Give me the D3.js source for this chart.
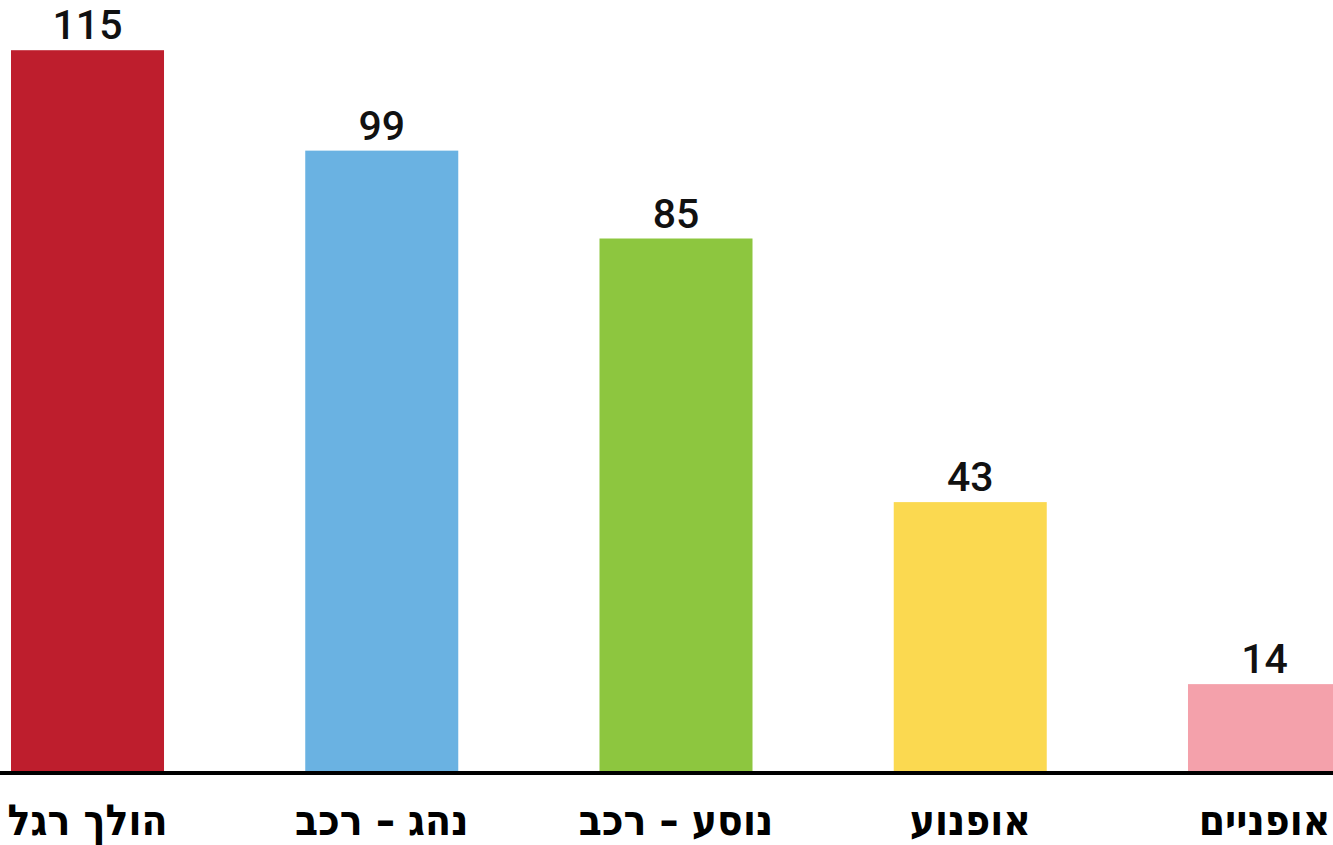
<!DOCTYPE html>
<html><head><meta charset="utf-8">
<script src="https://cdn.jsdelivr.net/npm/d3@7"></script>
<style>html,body{margin:0;padding:0;background:#fff;}svg{display:block;}</style>
</head><body><div id="chart"></div>
<script>
const categories = ["הולך רגל", "נהג – רכב", "נוסע – רכב", "אופנוע", "אופניים"];
const values = [115, 99, 85, 43, 14];
const colors = ["#BE1E2D", "#6AB2E2", "#8DC63F", "#FBD950", "#F4A1AB"];

const W = 1333, H = 845;
const svg = d3.select("#chart").append("svg").attr("width", W).attr("height", H);
const baseY = 772;
const x = d3.scaleBand().domain(categories).range([0, 1352]).paddingInner(0.48).paddingOuter(0.0374);
const y = d3.scaleLinear().domain([0, 123]).range([baseY, 0]);

svg.selectAll("rect.bar").data(values).enter().append("rect")
  .attr("class", "bar")
  .attr("x", (d, i) => x(categories[i]))
  .attr("width", x.bandwidth())
  .attr("y", d => y(d))
  .attr("height", d => baseY - y(d))
  .attr("fill", (d, i) => colors[i]);

svg.selectAll("text.val").data(values).enter().append("text")
  .attr("class", "val")
  .attr("x", (d, i) => x(categories[i]) + x.bandwidth() / 2)
  .attr("y", d => y(d) - 11)
  .attr("text-anchor", "middle")
  .style("font-family", "Roboto, sans-serif")
  .style("font-size", "41px")
  .style("font-weight", "500")
  .attr("fill", "#111")
  .text(d => d);

svg.append("line").attr("x1", 0).attr("x2", W).attr("y1", baseY + 1).attr("y2", baseY + 1)
  .attr("stroke", "#000").attr("stroke-width", 4);

svg.selectAll("text.cat").data(categories).enter().append("text")
  .attr("class", "cat")
  .attr("transform", d => `translate(${x(d) + x.bandwidth() / 2},835) scale(1,1.12)`)
  .attr("text-anchor", "middle")
  .attr("direction", "rtl")
  .style("font-family", "'DejaVu Sans', sans-serif")
  .style("font-size", "38px")
  .style("font-weight", "bold")
  .attr("fill", "#000")
  .text(d => d);
</script></body></html>
